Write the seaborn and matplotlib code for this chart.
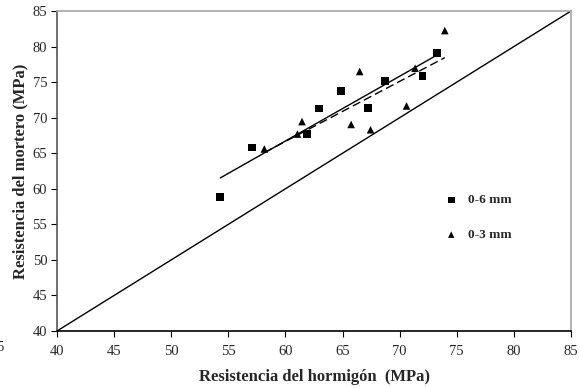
import matplotlib
matplotlib.use("Agg")
import matplotlib.pyplot as plt
import seaborn as sns
import numpy as np
import pandas as pd

# Data
x_06 = [54.3, 57.05, 61.9, 62.9, 64.9, 67.2, 68.7, 72.0, 73.3]
y_06 = [58.9, 65.8, 67.7, 71.3, 73.7, 71.4, 75.2, 75.9, 79.1]
x_03 = [58.15, 61.05, 61.45, 65.75, 66.5, 67.45, 70.6, 71.35, 73.95]
y_03 = [65.6, 67.7, 69.45, 69.05, 76.5, 68.3, 71.65, 76.95, 82.25]
ident = [40, 85]
ticks = [40, 45, 50, 55, 60, 65, 70, 75, 80, 85]
labels = ["0-6 mm", "0-3 mm"]
xlabel = "Resistencia del hormigón  (MPa)"
ylabel = "Resistencia del mortero (MPa)"

sns.set_style("white")
plt.rcParams["font.family"] = ["Liberation Serif", "DejaVu Serif"]

fig = plt.figure(figsize=(5.8, 3.88), dpi=100)
ax = fig.add_axes([0.0983, 0.1469, 0.8862, 0.8247])

df6 = pd.DataFrame({"x": x_06, "y": y_06})
df3 = pd.DataFrame({"x": x_03, "y": y_03})

# identity line
sns.lineplot(x=ident, y=ident, ax=ax, color="black", linewidth=1.0)

# regression lines
sns.regplot(data=df6, x="x", y="y", ax=ax, ci=None, scatter=False,
            line_kws=dict(color="black", linewidth=1.0))
sns.regplot(data=df3, x="x", y="y", ax=ax, ci=None, scatter=False,
            line_kws=dict(color="black", linewidth=1.0, linestyle=(0, (6, 3))))

# points
sns.scatterplot(data=df6, x="x", y="y", ax=ax, marker="s", s=32, color="black",
                edgecolor="none", label=labels[0], zorder=5)
sns.scatterplot(data=df3, x="x", y="y", ax=ax, marker="^", s=30, color="black",
                edgecolor="none", label=labels[1], zorder=5)

ax.set_xlim(40, 85)
ax.set_ylim(40, 85)
ax.set_xticks(ticks)
ax.set_yticks(ticks)
ax.set_xticklabels([str(t) for t in ticks])
ax.set_yticklabels([str(t) for t in ticks])
ax.tick_params(axis="both", direction="out", length=4, width=0.8, color="black",
               labelsize=10.5, pad=6, bottom=True, left=True)
ax.tick_params(axis="y", pad=3)

ax.set_xlabel(xlabel, fontsize=12, fontweight="bold", labelpad=8)
ax.set_ylabel(ylabel, fontsize=12, fontweight="bold", labelpad=3)

for side, col in [("left", "#555555"), ("bottom", "black"), ("top", "#a6a6a6"), ("right", "#a6a6a6")]:
    ax.spines[side].set_visible(True)
    ax.spines[side].set_color(col)
    ax.spines[side].set_linewidth(1.2)

leg = ax.legend(loc="upper left", bbox_to_anchor=(0.731, 0.444), frameon=False,
                prop=dict(weight="bold", size=9.5), handletextpad=0.3,
                labelspacing=1.7, markerscale=0.85, borderaxespad=0)

fig.text(0.0, 0.105, "5", fontsize=10.5, ha="center", va="center")

fig.savefig("out.png", dpi=100)
